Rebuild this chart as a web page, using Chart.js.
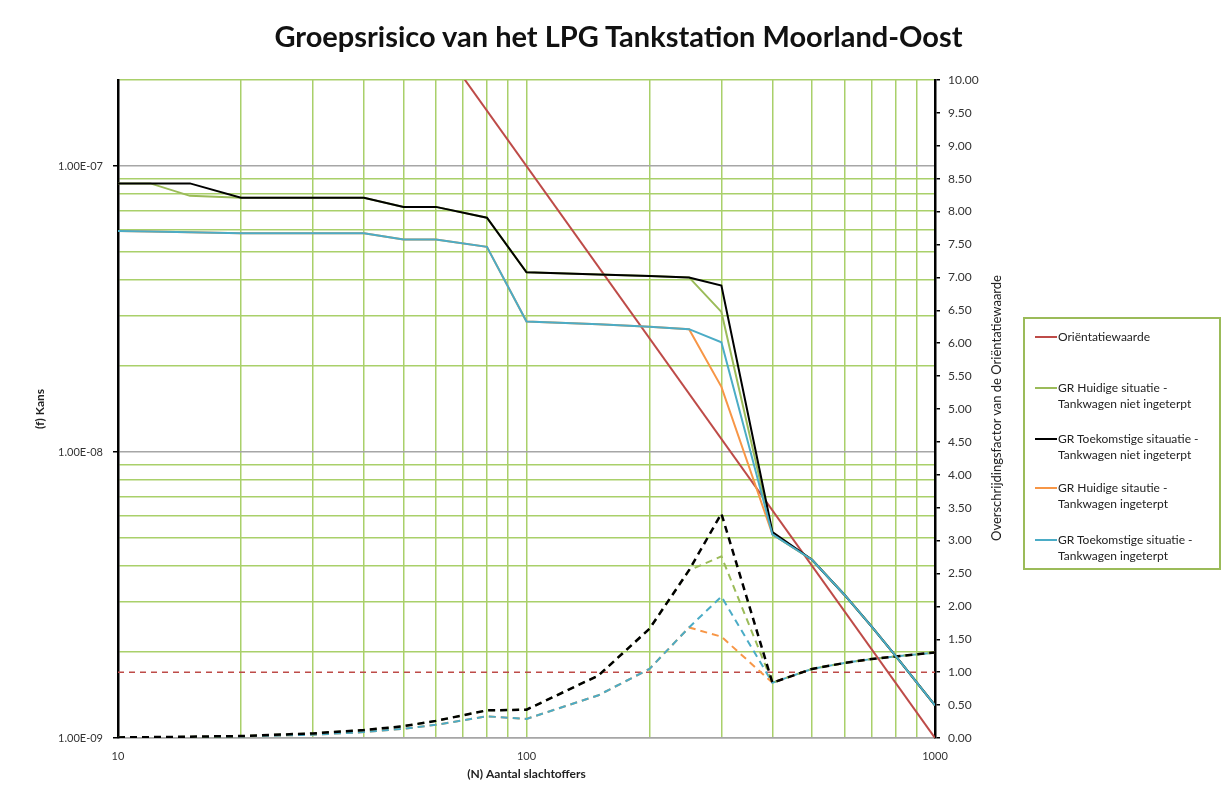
<!DOCTYPE html>
<html>
<head>
<meta charset="utf-8">
<title>Groepsrisico van het LPG Tankstation Moorland-Oost</title>
<script src="https://cdn.jsdelivr.net/npm/chart.js@4.4.1/dist/chart.umd.min.js"></script>
<style>
  body { margin: 0; background: #fff; font-family: Lato, sans-serif; }
  #wrap { position: relative; width: 1229px; height: 787px; }
  #chart-title { position: absolute; left: 4px; top: 19px; width: 1229px; text-align: center;
    font-size: 29px; line-height: 34px; font-weight: bold; color: #111; }
  #factor-title { position: absolute; left: 996px; top: 408px; transform: translate(-50%, -50%) rotate(-90deg);
    white-space: nowrap; font-size: 13px; color: #222; }
  #legend { position: absolute; left: 1023px; top: 317px; width: 194px; height: 249px; border: 2px solid #9bbb59; }
  .item { position: absolute; left: 10px; font-size: 12px; line-height: 16px; color: #222; }
  .item i { position: absolute; left: 0; top: 7px; width: 22px; height: 2px; }
  .item span { display: block; margin-left: 23px; white-space: nowrap; }
</style>
</head>
<body>
<div id="wrap">
  <canvas id="grChart"></canvas>
  <div id="chart-title">Groepsrisico van het LPG Tankstation Moorland-Oost</div>
  <div id="factor-title">Overschrijdingsfactor van de Oriëntatiewaarde</div>
  <div id="legend"></div>
</div>
<script>
// aantal slachtoffers (N)
const nValues = [10, 12, 15, 20, 30, 40, 50, 60, 80, 100, 150, 200, 250, 300, 400, 500, 600, 700, 800, 900, 1000];

// kans (f) per scenario
const huidigNietKans   = [8.7e-8, 8.7e-8, 7.87e-8, 7.75e-8, 7.75e-8, 7.75e-8, 7.2e-8, 7.2e-8, 6.6e-8, 4.25e-8, 4.18e-8, 4.13e-8, 4.08e-8, 3.09e-8, 5.15e-9, 4.2e-9, 3.17e-9, 2.45e-9, 1.94e-9, 1.57e-9, 1.3e-9];
const toekomstNietKans = [8.7e-8, 8.7e-8, 8.7e-8, 7.75e-8, 7.75e-8, 7.75e-8, 7.2e-8, 7.2e-8, 6.6e-8, 4.25e-8, 4.18e-8, 4.13e-8, 4.08e-8, 3.82e-8, 5.25e-9, 4.2e-9, 3.17e-9, 2.45e-9, 1.94e-9, 1.57e-9, 1.3e-9];
const huidigInKans     = [5.93e-8, 5.9e-8, 5.87e-8, 5.82e-8, 5.82e-8, 5.82e-8, 5.54e-8, 5.54e-8, 5.22e-8, 2.86e-8, 2.8e-8, 2.74e-8, 2.69e-8, 1.69e-8, 5.15e-9, 4.2e-9, 3.17e-9, 2.45e-9, 1.94e-9, 1.57e-9, 1.3e-9];
const toekomstInKans   = [5.93e-8, 5.9e-8, 5.87e-8, 5.82e-8, 5.82e-8, 5.82e-8, 5.54e-8, 5.54e-8, 5.22e-8, 2.86e-8, 2.8e-8, 2.74e-8, 2.69e-8, 2.42e-8, 5.15e-9, 4.2e-9, 3.17e-9, 2.45e-9, 1.94e-9, 1.57e-9, 1.3e-9];

// overschrijdingsfactor per scenario (rechter as)
const huidigNietFactor   = [0.009, 0.013, 0.018, 0.03, 0.07, 0.12, 0.18, 0.26, 0.42, 0.43, 0.95, 1.66, 2.55, 2.76, 0.84, 1.05, 1.14, 1.2, 1.24, 1.27, 1.3];
const toekomstNietFactor = [0.009, 0.013, 0.02, 0.03, 0.07, 0.12, 0.18, 0.26, 0.42, 0.43, 0.95, 1.66, 2.55, 3.41, 0.84, 1.05, 1.14, 1.2, 1.24, 1.27, 1.3];
const huidigInFactor     = [0.006, 0.009, 0.013, 0.023, 0.05, 0.09, 0.14, 0.2, 0.33, 0.29, 0.65, 1.05, 1.68, 1.54, 0.84, 1.05, 1.14, 1.2, 1.24, 1.27, 1.3];
const toekomstInFactor   = [0.006, 0.009, 0.013, 0.023, 0.05, 0.09, 0.14, 0.2, 0.33, 0.29, 0.65, 1.05, 1.68, 2.15, 0.84, 1.05, 1.14, 1.2, 1.24, 1.27, 1.3];

// orientatiewaarde
const orientatieN = [10, 1000];
const orientatieKans = [1e-5, 1e-9];
const orientatieFactor = [1, 1];

// ticks
const xTickValues = [10, 20, 30, 40, 50, 60, 70, 80, 90, 100, 200, 300, 400, 500, 600, 700, 800, 900, 1000];
const xTickLabels = ['10', '', '', '', '', '', '', '', '', '100', '', '', '', '', '', '', '', '', '1000'];
const yTickValues = [1e-9, 2e-9, 3e-9, 4e-9, 5e-9, 6e-9, 7e-9, 8e-9, 9e-9, 1e-8, 2e-8, 3e-8, 4e-8, 5e-8, 6e-8, 7e-8, 8e-8, 9e-8, 1e-7, 2e-7];
const yTickLabels = ['1.00E-09', '', '', '', '', '', '', '', '', '1.00E-08', '', '', '', '', '', '', '', '', '1.00E-07', ''];

const colors = { orientatie: '#be4b48', huidigNiet: '#9bbb59', toekomstNiet: '#000000', huidigIn: '#f79646', toekomstIn: '#4bacc6' };
const green = '#a9d06a';
const grey = '#a6a6a6';

const legendEntries = [
    ['Oriëntatiewaarde', colors.orientatie],
    ['GR Huidige situatie -|Tankwagen niet ingeterpt', colors.huidigNiet],
    ['GR Toekomstige sitauatie -|Tankwagen niet ingeterpt', colors.toekomstNiet],
    ['GR Huidige sitautie -|Tankwagen ingeterpt', colors.huidigIn],
    ['GR Toekomstige situatie -|Tankwagen ingeterpt', colors.toekomstIn]
];
const legendTops = [10, 61, 112, 161, 213];

const pts = (xs, ys) => xs.map((x, i) => ({ x: x, y: ys[i] }));

const solid = (label, color, ys, order) => ({
    label, data: pts(nValues, ys), borderColor: color, borderWidth: 2,
    pointRadius: 0, tension: 0, yAxisID: 'y', order
});
const dashed = (label, color, ys, order, width) => ({
    label, data: pts(nValues, ys), borderColor: color, borderWidth: width || 2,
    borderDash: [7, 5], pointRadius: 0, tension: 0, yAxisID: 'y2', order
});

Chart.defaults.font.family = 'Lato';
Chart.defaults.color = '#333';

const ctx = document.getElementById('grChart');
new Chart(ctx, {
    type: 'line',
    data: {
        datasets: [
            solid('GR Toekomstige situatie - Tankwagen ingeterpt', colors.toekomstIn, toekomstInKans, 1),
            solid('GR Toekomstige sitauatie - Tankwagen niet ingeterpt', colors.toekomstNiet, toekomstNietKans, 2),
            solid('GR Huidige situatie - Tankwagen niet ingeterpt', colors.huidigNiet, huidigNietKans, 3),
            solid('GR Huidige sitautie - Tankwagen ingeterpt', colors.huidigIn, huidigInKans, 4),
            {
                label: 'Oriëntatiewaarde', data: pts(orientatieN, orientatieKans), borderColor: colors.orientatie,
                borderWidth: 2, pointRadius: 0, yAxisID: 'y', order: 5
            },
            dashed('Factor toekomstig niet ingeterpt', colors.toekomstNiet, toekomstNietFactor, 6, 2.5),
            dashed('Factor huidig niet ingeterpt', colors.huidigNiet, huidigNietFactor, 7),
            dashed('Factor toekomstig ingeterpt', colors.toekomstIn, toekomstInFactor, 8),
            dashed('Factor huidig ingeterpt', colors.huidigIn, huidigInFactor, 9),
            {
                label: 'Factor orientatiewaarde', data: pts(orientatieN, orientatieFactor), borderColor: colors.orientatie,
                borderWidth: 1.5, borderDash: [6, 5], pointRadius: 0, yAxisID: 'y2', order: 10
            }
        ]
    },
    options: {
        responsive: true,
        maintainAspectRatio: false,
        animation: false,
        layout: { padding: { left: 30, right: 234, top: 80, bottom: 0 } },
        plugins: {
            legend: { display: false },
            tooltip: { enabled: false },
            title: { display: false }
        },
        scales: {
            x: {
                type: 'logarithmic',
                min: 10, max: 1000,
                afterBuildTicks: scale => { scale.ticks = xTickValues.map(v => ({ value: v })); },
                afterFit: scale => { scale.height = 49; },
                ticks: {
                    autoSkip: false, maxRotation: 0, padding: 8,
                    font: { size: 11 },
                    callback: v => xTickLabels[xTickValues.indexOf(v)] || ''
                },
                grid: {
                    lineWidth: 1.5, tickLength: 4, tickColor: 'transparent',
                    color: c => (c.tick && (c.tick.value === 10 || c.tick.value === 1000)) ? 'transparent' : green
                },
                border: { color: grey, width: 1.5 },
                title: {
                    display: true, text: '(N) Aantal slachtoffers', color: '#222',
                    font: { size: 12, weight: 'bold' }, padding: { top: 0, bottom: 6 }
                }
            },
            y: {
                type: 'logarithmic',
                position: 'left',
                min: 1e-9, max: 2e-7,
                afterBuildTicks: scale => { scale.ticks = yTickValues.map(v => ({ value: v })); },
                afterFit: scale => { scale.width = 88; },
                ticks: {
                    autoSkip: false, padding: 10,
                    font: { size: 11 },
                    callback: v => yTickLabels[yTickValues.indexOf(v)] || ''
                },
                grid: {
                    lineWidth: 1.5, tickLength: 5,
                    color: c => (c.tick && yTickLabels[yTickValues.indexOf(c.tick.value)]) ? grey : green,
                    tickColor: c => (c.tick && yTickLabels[yTickValues.indexOf(c.tick.value)]) ? '#000' : 'transparent'
                },
                border: { color: '#000', width: 2.5 },
                title: {
                    display: true, text: '(f) Kans', color: '#222',
                    font: { size: 12, weight: 'bold' }, padding: { top: 3, bottom: 0 }
                }
            },
            y2: {
                type: 'linear',
                position: 'right',
                min: 0, max: 10,
                afterFit: scale => { scale.width = 60; },
                ticks: {
                    stepSize: 0.5, autoSkip: false, padding: 8,
                    font: { size: 12 },
                    callback: v => v.toFixed(2)
                },
                grid: { drawOnChartArea: false, tickLength: 5, tickColor: '#000', lineWidth: 1.5 },
                border: { color: '#000', width: 2.5, dash: [6, 4] }
            }
        }
    }
});

// legenda
const legend = document.getElementById('legend');
legendEntries.forEach(([text, color], i) => {
    const item = document.createElement('div');
    item.className = 'item';
    item.style.top = legendTops[i] + 'px';
    const mark = document.createElement('i');
    mark.style.background = color;
    item.appendChild(mark);
    text.split('|').forEach(line => {
        const span = document.createElement('span');
        span.textContent = line;
        item.appendChild(span);
    });
    legend.appendChild(item);
});
</script>
</body>
</html>
